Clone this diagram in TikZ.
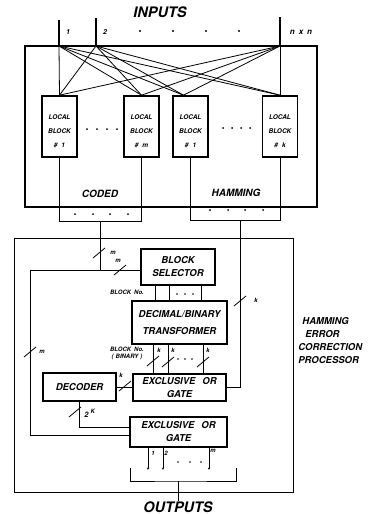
\documentclass[tikz,border=0pt]{standalone}
\usepackage{fontspec}
\setmainfont{TeX Gyre Heros}
\usetikzlibrary{arrows.meta}
\newcommand\sbar[2]{\draw[line width=0.8pt] (#1-6,#2+5) -- (#1+6,#2-5);}
\begin{document}
\begin{tikzpicture}[x=1pt,y=-1pt,line width=0.8pt,
  every node/.style={inner sep=0pt},
  big/.style={font=\fontsize{14.5}{16}\selectfont\bfseries\itshape},
  mid/.style={font=\fontsize{10}{13}\selectfont\bfseries\itshape},
  lbl/.style={font=\fontsize{6}{7}\selectfont\bfseries\itshape},
  lblock/.style={draw,line width=1.6pt,minimum width=35pt,minimum height=61pt,align=center,
    font=\fontsize{6.5}{14}\selectfont\bfseries\itshape},
  pbox/.style={draw,line width=1.4pt,align=center,font=\fontsize{9.5}{13}\selectfont\bfseries\itshape},
  dot/.style={fill=black},
  outarrow/.style={-{Stealth[length=2.5pt,width=2pt]}}
]
\useasboundingbox (0,0) rectangle (370,514);

% ---------- top part ----------
\node[big] (inputs) at (160,12) {INPUTS};
\node[draw,line width=1.3pt,minimum width=292pt,minimum height=161pt] (topbox) at (171,126.5) {};

\coordinate (in1t) at (59,20);  \coordinate (in1) at (59,46);
\coordinate (in2t) at (96,18);  \coordinate (in2) at (96,46);
\coordinate (innt) at (280,17); \coordinate (inn) at (280,46);
\draw[line width=1.2pt] (in1t) -- (in1);
\draw[line width=1.2pt] (in2t) -- (in2);
\draw[line width=1.2pt] (innt) -- (inn);
\draw[line width=1.8pt] (in1) -- (inn);

\node[lbl,font=\fontsize{7}{8}\selectfont\bfseries\itshape] (l1) at (68,32) {1};
\node[lbl,font=\fontsize{7}{8}\selectfont\bfseries\itshape] (l2) at (105,32) {2};
\foreach \x in {140,173,206,239} \fill[dot] (\x,31) circle (1.1pt);
\node[font=\fontsize{8}{9}\selectfont\bfseries\itshape] (lnn) at (301,32) {n\hspace{4pt}x\hspace{4pt}n};

\node[lblock] (b1) at (59.5,126.5) {\rule{0pt}{14pt}LOCAL\\BLOCK\\\#\hspace{4pt}1};
\node[lblock] (bm) at (141.5,126.5) {\rule{0pt}{14pt}LOCAL\\BLOCK\\\#\hspace{4pt}m};
\node[lblock] (h1) at (190.5,126.5) {\rule{0pt}{14pt}LOCAL\\BLOCK\\\#\hspace{4pt}1};
\node[lblock] (hk) at (280,126.5) {\rule{0pt}{14pt}LOCAL\\BLOCK\\\#\hspace{4pt}k};
\foreach \x in {87,97,107,117} \fill[dot] (\x,129) circle (1pt);
\foreach \x in {223,232,241,250} \fill[dot] (\x,128) circle (1pt);

\coordinate (b1n) at (b1.north);
\coordinate (bmn) at (bm.north);
\coordinate (h1n) at ([xshift=-7pt]h1.north);
\coordinate (hkn) at (hk.north);
\foreach \s in {in1,in2,inn}
  \foreach \t in {b1n,bmn,h1n,hkn}
    \draw (\s) -- (\t);

% brackets below local blocks
\coordinate (cbr) at (100,221);
\coordinate (hbr) at (240,220);
\draw (b1.south) |- (bm.south |- cbr) -- (bm.south);
\draw (h1.south) |- (hk.south |- hbr) -- (hk.south);
\node[mid] (coded) at (100,194) {CODED};
\node[mid] (hamming) at (236,193) {HAMMING};
\foreach \x in {75,93,110,128} \fill[dot] (\x,214) circle (1pt);
\foreach \x in {210,228,245,263} \fill[dot] (\x,210) circle (1pt);

% ---------- processor ----------
\node[draw,line width=0.9pt,minimum width=279pt,minimum height=254pt] (proc) at (153.5,365) {};
\node[anchor=west,align=left,font=\fontsize{9.5}{13}\selectfont\bfseries\itshape] (hecp) at (298,340.5)
  {\hspace*{4pt}HAMMING\\\hspace*{7pt}ERROR\\CORRECTION\\PROCESSOR};

\node[pbox,minimum width=74pt,minimum height=36pt] (bs) at (178,267) {BLOCK\\SELECTOR};
\node[pbox,minimum width=95pt,minimum height=43pt] (dbt) at (179.5,322.5) {DECIMAL/BINARY\\[4pt]TRANSFORMER};
\node[pbox,minimum width=93pt,minimum height=27pt] (x1) at (179.5,387.5) {EXCLUSIVE\hspace{7pt}OR\\GATE};
\node[pbox,minimum width=73pt,minimum height=28pt] (dec) at (79.5,387) {DECODER};
\node[pbox,minimum width=97pt,minimum height=30pt] (x2) at (178.5,432) {EXCLUSIVE\hspace{7pt}OR\\GATE};

% coded bus
\coordinate (J) at (100,270);
\coordinate (L) at (30,270);
\draw (cbr) -- (J);
\draw (J) -- (J -| bs.west);
\draw (J) -- (L) |- ([yshift=-3pt]x2.west);
\sbar{99}{253}  \node[lbl] (m1) at (113,253) {m};
\sbar{120}{270} \node[lbl] (m2) at (118,261) {m};
\sbar{30}{352}  \node[lbl] (m3) at (42,352) {m};

% hamming bus
\draw (hbr) |- (x1.east);
\sbar{240}{301} \node[lbl] (k1) at (256,300) {k};

% selector -> transformer
\foreach \x in {155,169,201} \draw (\x,0 |- bs.south) -- (\x,0 |- dbt.north);
\foreach \x in {177,185,193} \fill[dot] (\x,294) circle (0.9pt);
\node[lbl] (bno1) at (127,292) {BLOCK\hspace{3pt}No.};

% transformer -> xor1
\foreach \x in {153,168,203} \draw (\x,0 |- dbt.south) -- (\x,0 |- x1.north);
\sbar{153}{361} \sbar{168}{362} \sbar{203}{362}
\node[lbl] (k2) at (159,350) {k};
\node[lbl] (k3) at (173,350) {k};
\node[lbl] (k4) at (208,350) {k};
\foreach \x in {178,185,192} \fill[dot] (\x,359) circle (0.9pt);
\node[lbl,align=center] (bno2) at (127,353) {BLOCK\hspace{3pt}No.\\(\hspace{2pt}BINARY\hspace{2pt})};

% decoder
\draw (dec.east) -- (dec.east -| x1.west);
\sbar{125}{386} \node[lbl] (k5) at (121,375) {k};
\draw (dec.south) |- ([yshift=5pt]x2.west);
\sbar{75}{412}
\node[font=\fontsize{7.5}{8}\selectfont\bfseries\itshape,anchor=west] (twok) at (84,413) {2\hspace{2pt}\raisebox{4pt}{\fontsize{6}{7}\selectfont K}};

% outputs
\foreach \x in {148,163,209} \draw[outarrow] (\x,0 |- x2.south) -- (\x,470);
\node[lbl] (o1) at (153,453) {1};
\node[lbl] (o2) at (166,453) {2};
\node[lbl] (om) at (213,451) {m};
\foreach \x in {178,190,201} \fill[dot] (\x,462) circle (0.9pt);
\coordinate (obr) at (178,481);
\draw (130,468) |- (obr) -| (236,468);
\node[big] (outputs) at (178,507) {OUTPUTS};
\draw (obr) -- (outputs.north);
\end{tikzpicture}
\end{document}
